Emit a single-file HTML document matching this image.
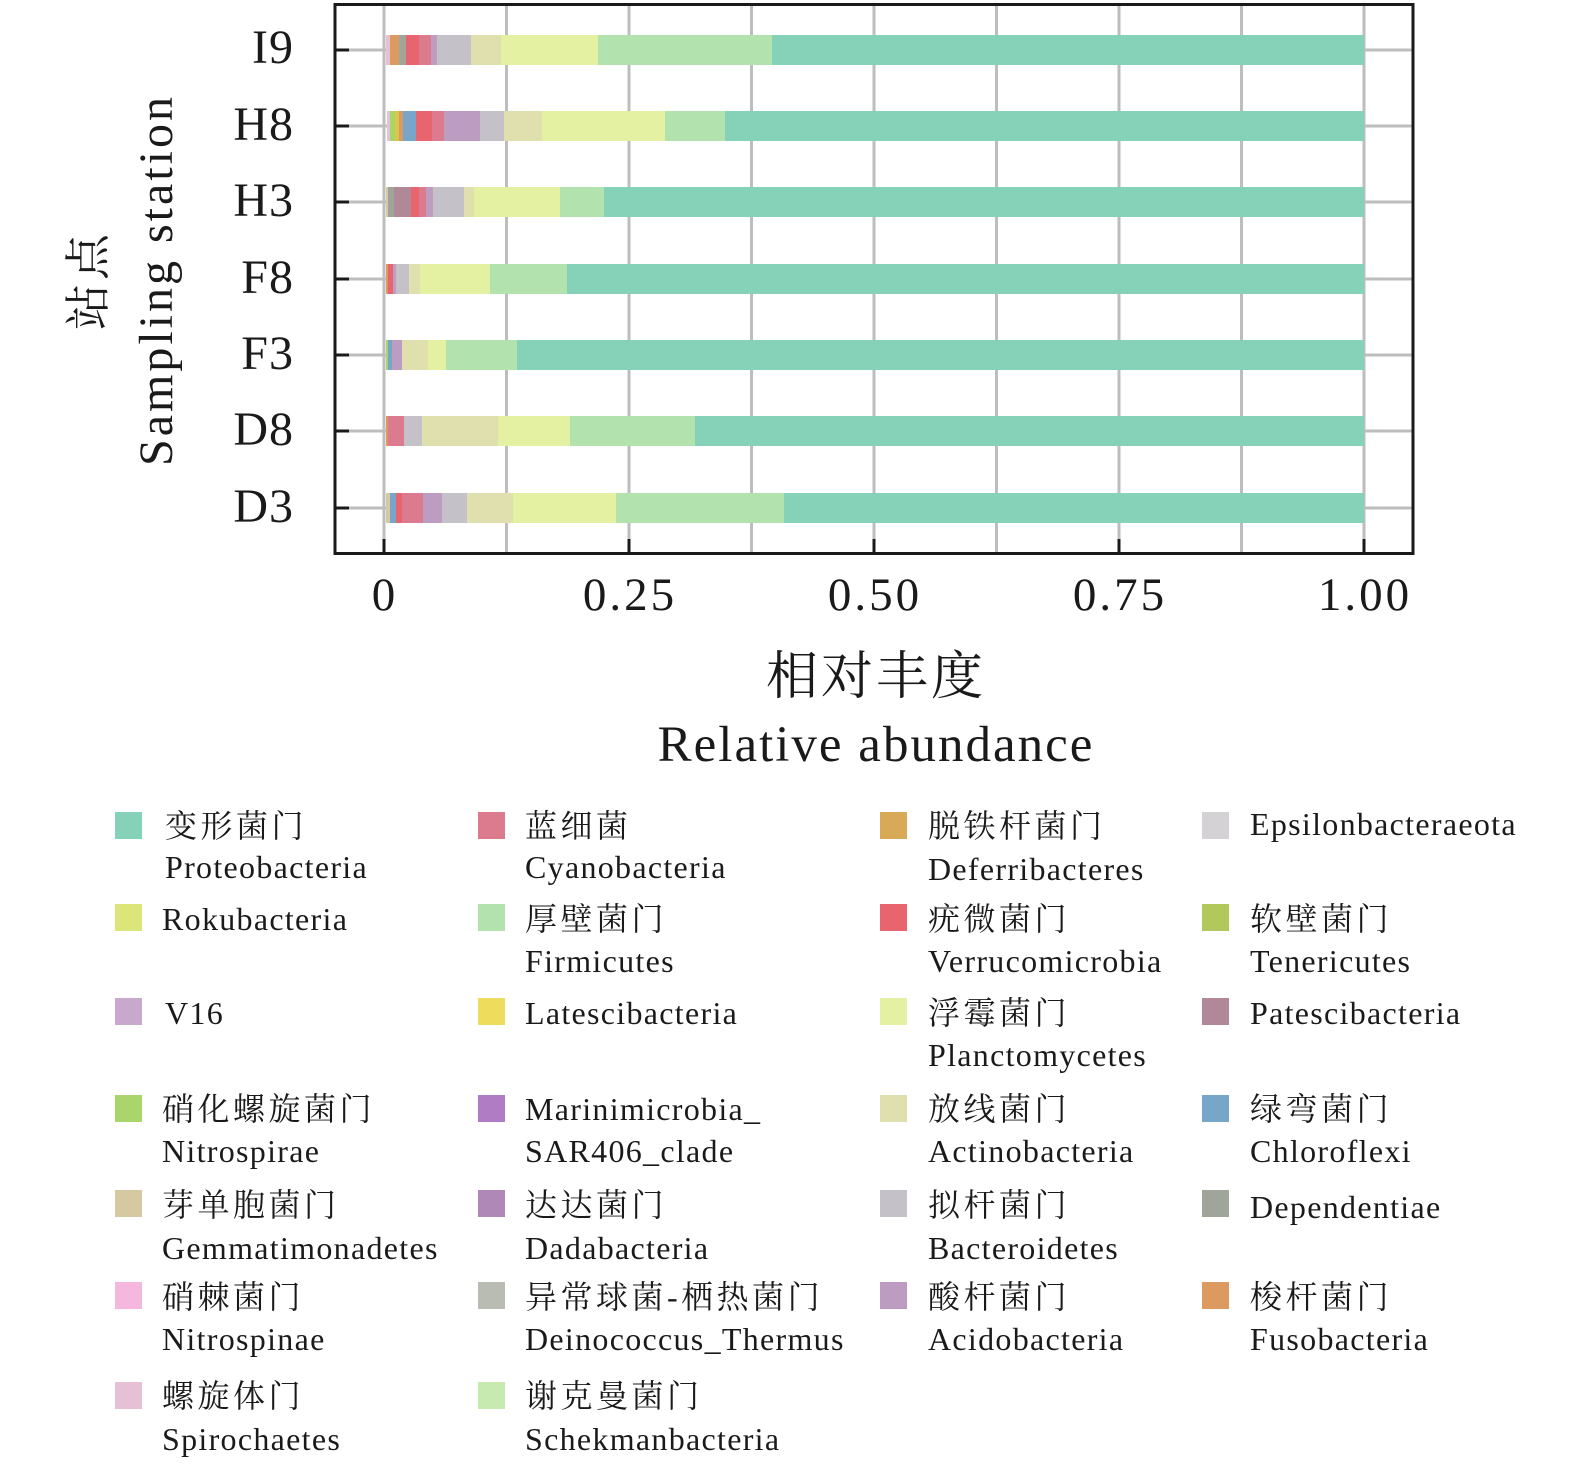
<!DOCTYPE html>
<html><head><meta charset="utf-8"><style>
html,body{margin:0;padding:0;background:#fff}
svg text{font-family:"Liberation Serif","Noto Serif CJK SC",serif;fill:#1a1a1a}
.lg text{letter-spacing:1.3px}
.lg text.c{letter-spacing:3.5px}
</style></head><body>
<svg width="1575" height="1474" viewBox="0 0 1575 1474" xmlns="http://www.w3.org/2000/svg">
<g stroke="#bdbdbd" stroke-width="3">
<line x1="384" y1="5" x2="384" y2="553"/><line x1="506.5" y1="5" x2="506.5" y2="553"/><line x1="629" y1="5" x2="629" y2="553"/><line x1="751.5" y1="5" x2="751.5" y2="553"/><line x1="874" y1="5" x2="874" y2="553"/><line x1="996.5" y1="5" x2="996.5" y2="553"/><line x1="1119" y1="5" x2="1119" y2="553"/><line x1="1241.5" y1="5" x2="1241.5" y2="553"/><line x1="1364" y1="5" x2="1364" y2="553"/>
<line x1="335" y1="50" x2="1413" y2="50"/><line x1="335" y1="126" x2="1413" y2="126"/><line x1="335" y1="202" x2="1413" y2="202"/><line x1="335" y1="279" x2="1413" y2="279"/><line x1="335" y1="355" x2="1413" y2="355"/><line x1="335" y1="431" x2="1413" y2="431"/><line x1="335" y1="508" x2="1413" y2="508"/>
</g>
<g transform="translate(0,35)">
<rect x="386" width="4" height="30" fill="#e6c0d4"/><rect x="390" width="9" height="30" fill="#dc9a60"/><rect x="399" width="7" height="30" fill="#a0a59a"/><rect x="406" width="13" height="30" fill="#e8646f"/><rect x="419" width="12" height="30" fill="#dc7b8e"/><rect x="431" width="6" height="30" fill="#c09cc0"/><rect x="437" width="34" height="30" fill="#c4c2c8"/><rect x="471" width="30" height="30" fill="#e0dfae"/><rect x="501" width="97" height="30" fill="#e4f0a2"/><rect x="598" width="174" height="30" fill="#b2e2ae"/><rect x="772" width="592" height="30" fill="#85d2b8"/>
</g>
<g transform="translate(0,111)">
<rect x="387" width="3" height="30" fill="#e6c0d4"/><rect x="390" width="5" height="30" fill="#a8d66a"/><rect x="395" width="4" height="30" fill="#d8c84a"/><rect x="399" width="4" height="30" fill="#dc9a60"/><rect x="403" width="13" height="30" fill="#78a6c8"/><rect x="416" width="16" height="30" fill="#e8646f"/><rect x="432" width="12" height="30" fill="#dc7b8e"/><rect x="444" width="36" height="30" fill="#bc9cc0"/><rect x="480" width="24" height="30" fill="#c4c2c8"/><rect x="504" width="38" height="30" fill="#e0dfae"/><rect x="542" width="123" height="30" fill="#e4f0a2"/><rect x="665" width="60" height="30" fill="#b2e2ae"/><rect x="725" width="639" height="30" fill="#85d2b8"/>
</g>
<g transform="translate(0,187)">
<rect x="386" width="2" height="30" fill="#d6c8a0"/><rect x="388" width="6" height="30" fill="#a0a59a"/><rect x="394" width="17" height="30" fill="#b08898"/><rect x="411" width="8" height="30" fill="#e8646f"/><rect x="419" width="7" height="30" fill="#dc7b8e"/><rect x="426" width="7" height="30" fill="#c09cc0"/><rect x="433" width="31" height="30" fill="#c4c2c8"/><rect x="464" width="10" height="30" fill="#e0dfae"/><rect x="474" width="86" height="30" fill="#e4f0a2"/><rect x="560" width="44" height="30" fill="#b2e2ae"/><rect x="604" width="760" height="30" fill="#85d2b8"/>
</g>
<g transform="translate(0,264)">
<rect x="386" width="2" height="30" fill="#dc9a60"/><rect x="388" width="5" height="30" fill="#e8646f"/><rect x="393" width="3" height="30" fill="#c09cc0"/><rect x="396" width="13" height="30" fill="#c4c2c8"/><rect x="409" width="11" height="30" fill="#e0dfae"/><rect x="420" width="70" height="30" fill="#e4f0a2"/><rect x="490" width="77" height="30" fill="#b2e2ae"/><rect x="567" width="797" height="30" fill="#85d2b8"/>
</g>
<g transform="translate(0,340)">
<rect x="386" width="2" height="30" fill="#a8d66a"/><rect x="388" width="4" height="30" fill="#78a6c8"/><rect x="392" width="10" height="30" fill="#bc9cc0"/><rect x="402" width="26" height="30" fill="#e0dfae"/><rect x="428" width="18" height="30" fill="#e4f0a2"/><rect x="446" width="71" height="30" fill="#b2e2ae"/><rect x="517" width="847" height="30" fill="#85d2b8"/>
</g>
<g transform="translate(0,416)">
<rect x="386" width="2" height="30" fill="#dc9a60"/><rect x="388" width="16" height="30" fill="#dc7b8e"/><rect x="404" width="18" height="30" fill="#c4c2c8"/><rect x="422" width="76" height="30" fill="#e0dfae"/><rect x="498" width="72" height="30" fill="#e4f0a2"/><rect x="570" width="125" height="30" fill="#b2e2ae"/><rect x="695" width="669" height="30" fill="#85d2b8"/>
</g>
<g transform="translate(0,493)">
<rect x="386" width="4" height="30" fill="#d6c8a0"/><rect x="390" width="6" height="30" fill="#78a6c8"/><rect x="396" width="6" height="30" fill="#e8646f"/><rect x="402" width="21" height="30" fill="#dc7b8e"/><rect x="423" width="19" height="30" fill="#bc9cc0"/><rect x="442" width="25" height="30" fill="#c4c2c8"/><rect x="467" width="46" height="30" fill="#e0dfae"/><rect x="513" width="103" height="30" fill="#e4f0a2"/><rect x="616" width="168" height="30" fill="#b2e2ae"/><rect x="784" width="580" height="30" fill="#85d2b8"/>
</g>
<rect x="335" y="4.5" width="1078" height="549" fill="none" stroke="#1a1a1a" stroke-width="3"/>
<g stroke="#1a1a1a" stroke-width="3">
<line x1="335" y1="50" x2="349" y2="50"/><line x1="335" y1="126" x2="349" y2="126"/><line x1="335" y1="202" x2="349" y2="202"/><line x1="335" y1="279" x2="349" y2="279"/><line x1="335" y1="355" x2="349" y2="355"/><line x1="335" y1="431" x2="349" y2="431"/><line x1="335" y1="508" x2="349" y2="508"/>
<line x1="384" y1="539" x2="384" y2="553"/><line x1="629" y1="539" x2="629" y2="553"/><line x1="874" y1="539" x2="874" y2="553"/><line x1="1119" y1="539" x2="1119" y2="553"/><line x1="1364" y1="539" x2="1364" y2="553"/>
</g>
<g font-size="48" text-anchor="end" style="letter-spacing:1px">
<text x="294" y="63">I9</text><text x="294" y="140">H8</text><text x="294" y="216">H3</text><text x="294" y="293">F8</text><text x="294" y="369">F3</text><text x="294" y="445">D8</text><text x="294" y="522">D3</text>
</g>
<text transform="translate(172,280) rotate(-90)" font-size="48" text-anchor="middle" style="letter-spacing:3px">Sampling station</text>
<text transform="translate(104,280) rotate(-90)" font-size="46" text-anchor="middle" style="letter-spacing:4px">站点</text>
<g font-size="47" text-anchor="middle" style="letter-spacing:3px">
<text x="385" y="610">0</text><text x="630" y="610">0.25</text><text x="875" y="610">0.50</text><text x="1120" y="610">0.75</text><text x="1365" y="610">1.00</text>
</g>
<text x="876" y="694" font-size="52" text-anchor="middle" style="letter-spacing:3px">相对丰度</text>
<text x="876" y="761" font-size="51" text-anchor="middle" style="letter-spacing:2px">Relative abundance</text>
<g font-size="32" class="lg">
<rect x="115" y="812" width="27" height="27" fill="#85d2b8"/><text class="c" x="165" y="837">变形菌门</text><text x="165" y="878">Proteobacteria</text>
<rect x="115" y="904" width="27" height="27" fill="#dce57a"/><text x="162" y="930">Rokubacteria</text>
<rect x="115" y="998" width="27" height="27" fill="#c8a8cc"/><text x="165" y="1024">V16</text>
<rect x="115" y="1095" width="27" height="27" fill="#a8d66a"/><text class="c" x="162" y="1120">硝化螺旋菌门</text><text x="162" y="1162">Nitrospirae</text>
<rect x="115" y="1190" width="27" height="27" fill="#d6c8a0"/><text class="c" x="162" y="1216">芽单胞菌门</text><text x="162" y="1259">Gemmatimonadetes</text>
<rect x="115" y="1282" width="27" height="27" fill="#f4b8de"/><text class="c" x="162" y="1308">硝棘菌门</text><text x="162" y="1350">Nitrospinae</text>
<rect x="115" y="1382" width="27" height="27" fill="#e6c0d4"/><text class="c" x="162" y="1407">螺旋体门</text><text x="162" y="1450">Spirochaetes</text>
<rect x="478" y="812" width="27" height="27" fill="#dc7b8e"/><text class="c" x="525" y="837">蓝细菌</text><text x="525" y="878">Cyanobacteria</text>
<rect x="478" y="904" width="27" height="27" fill="#b2e2ae"/><text class="c" x="525" y="930">厚壁菌门</text><text x="525" y="972">Firmicutes</text>
<rect x="478" y="998" width="27" height="27" fill="#eedd5c"/><text x="525" y="1024">Latescibacteria</text>
<rect x="478" y="1095" width="27" height="27" fill="#b07cc4"/><text x="525" y="1120">Marinimicrobia_</text><text x="525" y="1162">SAR406_clade</text>
<rect x="478" y="1190" width="27" height="27" fill="#b088b8"/><text class="c" x="525" y="1216">达达菌门</text><text x="525" y="1259">Dadabacteria</text>
<rect x="478" y="1282" width="27" height="27" fill="#b8bcb2"/><text class="c" x="525" y="1308">异常球菌-栖热菌门</text><text x="525" y="1350">Deinococcus_Thermus</text>
<rect x="478" y="1382" width="27" height="27" fill="#c6eab0"/><text class="c" x="525" y="1407">谢克曼菌门</text><text x="525" y="1450">Schekmanbacteria</text>
<rect x="880" y="812" width="27" height="27" fill="#d8aa58"/><text class="c" x="928" y="837">脱铁杆菌门</text><text x="928" y="880">Deferribacteres</text>
<rect x="880" y="904" width="27" height="27" fill="#e8646f"/><text class="c" x="928" y="930">疣微菌门</text><text x="928" y="972">Verrucomicrobia</text>
<rect x="880" y="998" width="27" height="27" fill="#e4f0a2"/><text class="c" x="928" y="1024">浮霉菌门</text><text x="928" y="1066">Planctomycetes</text>
<rect x="880" y="1095" width="27" height="27" fill="#e0dfae"/><text class="c" x="928" y="1120">放线菌门</text><text x="928" y="1162">Actinobacteria</text>
<rect x="880" y="1190" width="27" height="27" fill="#c4c2c8"/><text class="c" x="928" y="1216">拟杆菌门</text><text x="928" y="1259">Bacteroidetes</text>
<rect x="880" y="1282" width="27" height="27" fill="#bc9cc0"/><text class="c" x="928" y="1308">酸杆菌门</text><text x="928" y="1350">Acidobacteria</text>
<rect x="1202" y="812" width="27" height="27" fill="#d4d2d4"/><text x="1250" y="835">Epsilonbacteraeota</text>
<rect x="1202" y="904" width="27" height="27" fill="#b2c85c"/><text class="c" x="1250" y="930">软壁菌门</text><text x="1250" y="972">Tenericutes</text>
<rect x="1202" y="998" width="27" height="27" fill="#b08898"/><text x="1250" y="1024">Patescibacteria</text>
<rect x="1202" y="1095" width="27" height="27" fill="#78a6c8"/><text class="c" x="1250" y="1120">绿弯菌门</text><text x="1250" y="1162">Chloroflexi</text>
<rect x="1202" y="1190" width="27" height="27" fill="#a0a59a"/><text x="1250" y="1218">Dependentiae</text>
<rect x="1202" y="1282" width="27" height="27" fill="#dc9a60"/><text class="c" x="1250" y="1308">梭杆菌门</text><text x="1250" y="1350">Fusobacteria</text>
</g>
</svg>
</body></html>
